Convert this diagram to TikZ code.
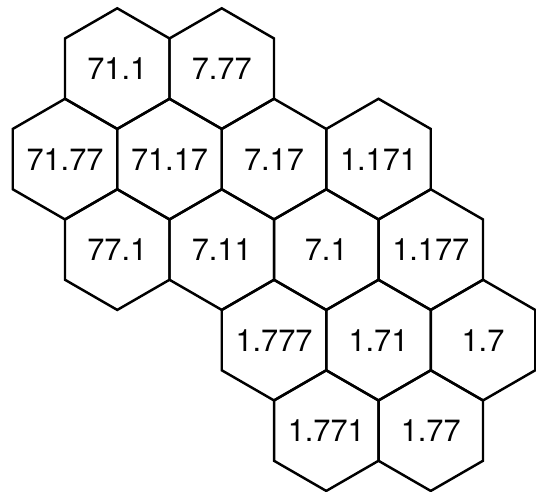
\documentclass[tikz,border=0pt]{standalone}
\usepackage{fontspec}
\setsansfont{TeX Gyre Heros}

\newcommand{\hexrad}{1.2066cm}

\begin{document}
\begin{tikzpicture}[
    x=0.02cm, y=-0.02cm,
    cell/.style={inner sep=0pt, font=\sffamily\fontsize{17.5}{20}\selectfont},
    hexline/.style={draw, line width=1.4pt, line join=miter}
]

\useasboundingbox (0,0) rectangle (536,491);

% --- Cell labels, row by row ---
\foreach \n/\x/\y/\t in {
    r1c1/117.25/68.6/71.1, r1c2/221.75/68.6/7.77,
    r2c1/65/159.1/71.77, r2c2/169.5/159.1/71.17, r2c3/274/159.1/7.17, r2c4/378.5/159.1/1.171,
    r3c1/117.25/249.6/77.1, r3c2/221.75/249.6/7.11, r3c3/326.25/249.6/7.1, r3c4/430.75/249.6/1.177,
    r4c1/274/340.1/1.777, r4c2/378.5/340.1/1.71, r4c3/483/340.1/1.7,
    r5c1/326.25/430.6/1.771, r5c2/430.75/430.6/1.77}
{
    \node[cell] (\n) at (\x,\y) {\t};
    % --- Hexagon around the label ---
    \draw[hexline] (\n.center) ++(90:\hexrad) -- ++(210:\hexrad) -- ++(270:\hexrad)
        -- ++(330:\hexrad) -- ++(30:\hexrad) -- ++(90:\hexrad) -- cycle;
}

\end{tikzpicture}
\end{document}
